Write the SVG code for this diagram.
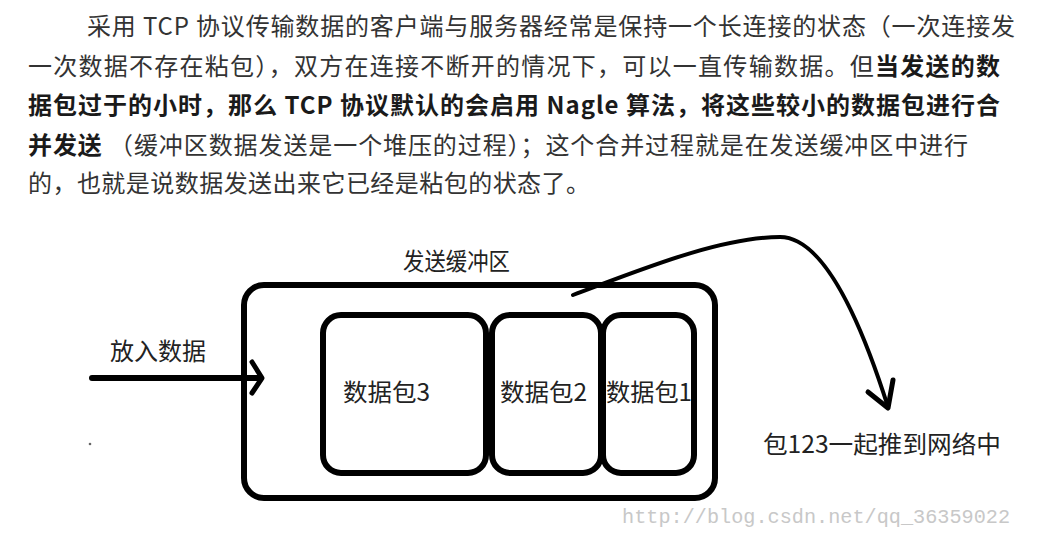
<svg xmlns="http://www.w3.org/2000/svg" width="1038" height="536" viewBox="0 0 1038 536">
<style>
.p{font-family:"Noto Sans CJK SC","Noto Sans",sans-serif;font-size:24px;fill:#333}
.b{font-weight:bold;fill:#1a1a1a}
.lbl{font-family:"Noto Sans CJK SC","Noto Sans",sans-serif;font-size:24px;fill:#222}
.box{fill:none;stroke:#000;stroke-width:6}
.ln{fill:none;stroke:#000;stroke-linecap:round;stroke-linejoin:round}
.wm{font-family:"Liberation Mono",monospace;font-size:20px;fill:#c8c8c8}
</style>
<rect width="1038" height="536" fill="#fff"/>
<g id="paragraph">
<text class="p" x="87" y="35" textLength="928" lengthAdjust="spacing">采用 TCP 协议传输数据的客户端与服务器经常是保持一个长连接的状态（一次连接发</text>
<text class="p" x="28" y="75" textLength="972" lengthAdjust="spacing">一次数据不存在粘包），双方在连接不断开的情况下，可以一直传输数据。但<tspan class="b">当发送的数</tspan></text>
<text class="p b" x="28" y="114" textLength="972" lengthAdjust="spacing">据包过于的小时，那么 TCP 协议默认的会启用 Nagle 算法，将这些较小的数据包进行合</text>
<text class="p" x="28" y="154" textLength="940" lengthAdjust="spacing"><tspan class="b">并发送</tspan> （缓冲区数据发送是一个堆压的过程）；这个合并过程就是在发送缓冲区中进行</text>
<text class="p" x="28" y="192" textLength="562" lengthAdjust="spacing">的，也就是说数据发送出来它已经是粘包的状态了。</text>
</g>
<g id="buffer">
<rect class="box" x="244" y="285" width="471" height="213" rx="20"/>
<text class="lbl" x="403" y="270" font-size="21" textLength="107" lengthAdjust="spacingAndGlyphs">发送缓冲区</text>
</g>
<g id="packet3">
<rect class="box" x="323" y="315" width="163" height="158" rx="18"/>
<text class="lbl" x="343" y="401" textLength="87" lengthAdjust="spacingAndGlyphs">数据包3</text>
</g>
<g id="packet2">
<rect class="box" x="492" y="315" width="109" height="158" rx="18"/>
<text class="lbl" x="500" y="401" textLength="87" lengthAdjust="spacingAndGlyphs">数据包2</text>
</g>
<g id="packet1">
<rect class="box" x="603" y="315" width="91" height="158" rx="18"/>
<text class="lbl" x="606" y="401" textLength="86" lengthAdjust="spacingAndGlyphs">数据包1</text>
</g>
<g id="input-label">
<text class="lbl" x="110" y="360" textLength="96" lengthAdjust="spacingAndGlyphs">放入数据</text>
</g>
<g id="network-label">
<text class="lbl" x="763" y="453" textLength="238" lengthAdjust="spacingAndGlyphs">包123一起推到网络中</text>
</g>
<g id="connectors">
<path class="ln" stroke-width="6" d="M92,378 L258,378"/>
<path class="ln" stroke-width="5" d="M252,362 L262,378 L252,393"/>
<path class="ln" stroke-width="4" d="M573,295 C640,270 720,237 780,237 Q834,237 888,407"/>
<path class="ln" stroke-width="5" d="M868,392 L888,408 L893,380"/>
</g>
<circle cx="90" cy="444" r="1.3" fill="#666"/>
<text class="wm" x="622" y="523" textLength="388" lengthAdjust="spacingAndGlyphs">http://blog.csdn.net/qq_36359022</text>
</svg>
